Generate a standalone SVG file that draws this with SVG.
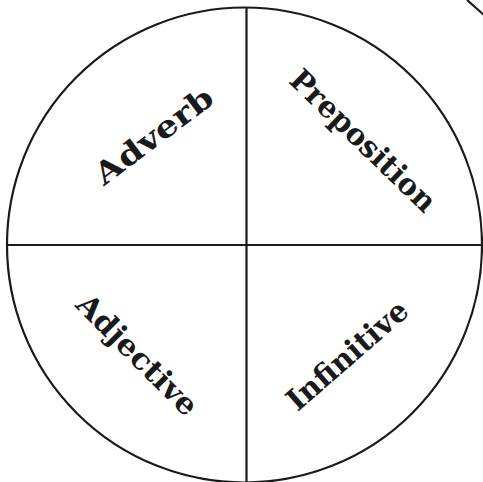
<svg xmlns="http://www.w3.org/2000/svg" width="483" height="482" viewBox="0 0 483 482">
<style>
.ln{stroke:#1a1a1a;stroke-width:2.2;fill:none}
.lb{font-family:"DejaVu Serif","Liberation Serif",serif;font-weight:bold;font-size:30px;fill:#1a1a1a;text-anchor:middle}
</style>
<rect width="483" height="482" fill="#fff"/>
<g id="connectors">
<circle class="ln" cx="244.5" cy="245" r="237.5"/>
<line class="ln" x1="246.5" y1="7.5" x2="246.5" y2="482"/>
<line class="ln" x1="7" y1="245" x2="483" y2="245"/>
<line class="ln" x1="467" y1="0" x2="484" y2="15"/>
</g>
<g id="adverb"><text class="lb" transform="translate(160,144) rotate(-37)" textLength="140" lengthAdjust="spacingAndGlyphs">Adverb</text></g>
<g id="preposition"><text class="lb" transform="translate(356,148) rotate(44)" textLength="190" lengthAdjust="spacingAndGlyphs">Preposition</text></g>
<g id="adjective"><text class="lb" transform="translate(130,362) rotate(45)" textLength="158" lengthAdjust="spacingAndGlyphs">Adjective</text></g>
<g id="infinitive"><text class="lb" transform="translate(354,363) rotate(-41)" textLength="150" lengthAdjust="spacingAndGlyphs">Infinitive</text></g>
</svg>
